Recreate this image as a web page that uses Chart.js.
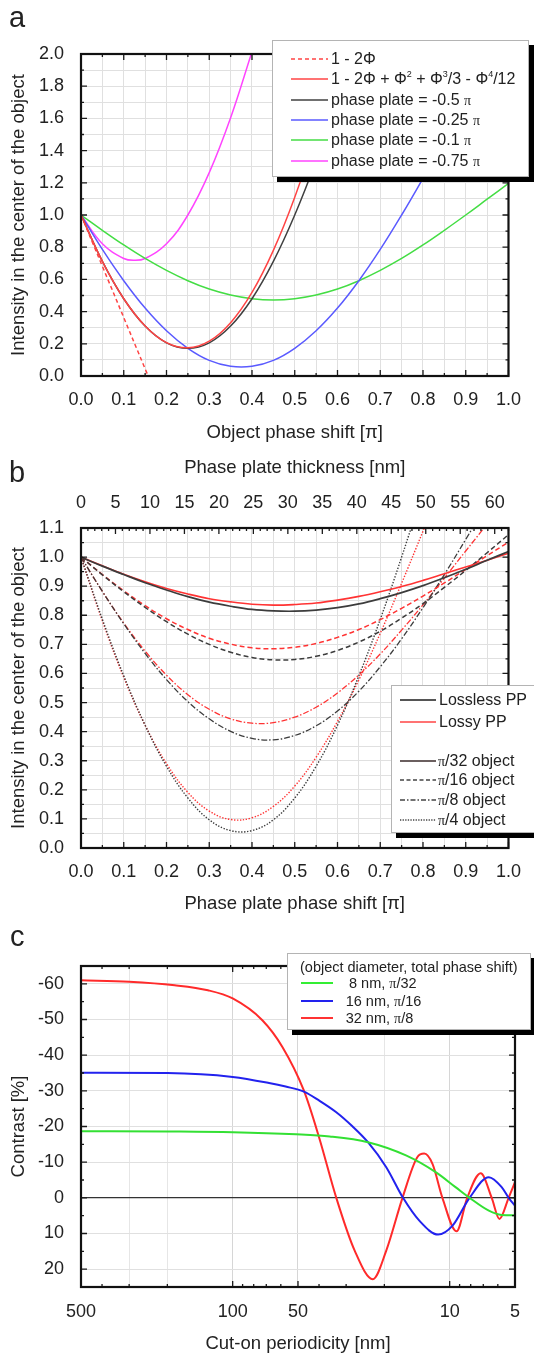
<!DOCTYPE html>
<html>
<head>
<meta charset="utf-8">
<script src="https://cdn.jsdelivr.net/npm/chart.js@4.4.1/dist/chart.umd.min.js"></script>
<style>
html,body{margin:0;padding:0;background:#fff;overflow:hidden;}
#page{position:relative;width:534px;height:1353px;overflow:hidden;font-family:"Liberation Sans",Arial,Helvetica,sans-serif;color:#222;}
canvas{position:absolute;left:0;}
.lbl{position:absolute;font-size:29px;line-height:29px;}
.legend{position:absolute;box-sizing:border-box;background:#fff;border:1px solid #b4b4b4;box-shadow:5px 5px 0 #000;}
.row{position:absolute;left:0;height:20px;display:flex;align-items:center;white-space:nowrap;}
.row svg{flex:none;}
.pi{font-family:"Liberation Serif","DejaVu Serif",serif;font-size:14px;}
sup{font-size:9px;line-height:0;vertical-align:7px;}
</style>
</head>
<body>
<div id="page">
  <canvas id="ca" width="534" height="450" style="top:0px"></canvas>
  <canvas id="cb" width="534" height="480" style="top:440px"></canvas>
  <canvas id="cc" width="534" height="440" style="top:915px"></canvas>

  <div class="lbl" style="left:9px;top:3px">a</div>
  <div class="lbl" style="left:9px;top:458px">b</div>
  <div class="lbl" style="left:10px;top:922px">c</div>

  <!-- legend a -->
  <div class="legend" style="left:272px;top:40px;width:257px;height:137px;font-size:16px">
    <div class="row" style="top:8px"><svg style="margin-left:18px" width="37" height="4"><line x1="0" y1="2" x2="37" y2="2" stroke="#ff4444" stroke-width="1.5" stroke-dasharray="4 3"/></svg><span style="margin-left:3px">1 - 2Φ</span></div>
    <div class="row" style="top:28.3px"><svg style="margin-left:18px" width="37" height="4"><line x1="0" y1="2" x2="37" y2="2" stroke="#ff4444" stroke-width="1.5"/></svg><span style="margin-left:3px">1 - 2Φ + Φ<sup>2</sup> + Φ<sup>3</sup>/3 - Φ<sup>4</sup>/12</span></div>
    <div class="row" style="top:48.6px"><svg style="margin-left:18px" width="37" height="4"><line x1="0" y1="2" x2="37" y2="2" stroke="#404040" stroke-width="1.5"/></svg><span style="margin-left:3px">phase plate = -0.5 <span class="pi">π</span></span></div>
    <div class="row" style="top:68.9px"><svg style="margin-left:18px" width="37" height="4"><line x1="0" y1="2" x2="37" y2="2" stroke="#5a5aff" stroke-width="1.5"/></svg><span style="margin-left:3px">phase plate = -0.25 <span class="pi">π</span></span></div>
    <div class="row" style="top:89.2px"><svg style="margin-left:18px" width="37" height="4"><line x1="0" y1="2" x2="37" y2="2" stroke="#44dd44" stroke-width="1.5"/></svg><span style="margin-left:3px">phase plate = -0.1 <span class="pi">π</span></span></div>
    <div class="row" style="top:109.5px"><svg style="margin-left:18px" width="37" height="4"><line x1="0" y1="2" x2="37" y2="2" stroke="#ff44ff" stroke-width="1.5"/></svg><span style="margin-left:3px">phase plate = -0.75 <span class="pi">π</span></span></div>
  </div>

  <!-- legend b -->
  <div class="legend" style="left:391px;top:685px;width:160px;height:148px;font-size:16px">
    <div class="row" style="top:4px"><svg style="margin-left:8px" width="36" height="4"><line x1="0" y1="2" x2="36" y2="2" stroke="#555" stroke-width="1.8"/></svg><span style="margin-left:3px">Lossless PP</span></div>
    <div class="row" style="top:26px"><svg style="margin-left:8px" width="36" height="4"><line x1="0" y1="2" x2="36" y2="2" stroke="#ff4444" stroke-width="1.5"/></svg><span style="margin-left:3px">Lossy PP</span></div>
    <div class="row" style="top:65px"><svg style="margin-left:8px" width="36" height="4"><line x1="0" y1="2" x2="36" y2="2" stroke="#6b5f5f" stroke-width="2.2"/></svg><span style="margin-left:2px"><span class="pi">π</span>/32 object</span></div>
    <div class="row" style="top:84px"><svg style="margin-left:8px" width="36" height="4"><line x1="0" y1="2" x2="36" y2="2" stroke="#444" stroke-width="1.4" stroke-dasharray="4 2.5"/></svg><span style="margin-left:2px"><span class="pi">π</span>/16 object</span></div>
    <div class="row" style="top:104px"><svg style="margin-left:8px" width="36" height="4"><line x1="0" y1="2" x2="36" y2="2" stroke="#444" stroke-width="1.4" stroke-dasharray="5 2 1.5 2"/></svg><span style="margin-left:2px"><span class="pi">π</span>/8 object</span></div>
    <div class="row" style="top:124px"><svg style="margin-left:8px" width="36" height="4"><line x1="0" y1="2" x2="36" y2="2" stroke="#444" stroke-width="1.4" stroke-dasharray="1.3 1.3"/></svg><span style="margin-left:2px"><span class="pi">π</span>/4 object</span></div>
  </div>

  <!-- legend c -->
  <div class="legend" style="left:287px;top:953px;width:244px;height:77px;font-size:14.5px">
    <div class="row" style="top:3.5px;height:18px"><span style="margin-left:12px">(object diameter, total phase shift)</span></div>
    <div class="row" style="top:20.3px;height:18px"><svg style="margin-left:13px" width="32" height="4"><line x1="0" y1="2" x2="32" y2="2" stroke="#33ee33" stroke-width="2"/></svg><span style="margin-left:16px">8 nm, <span class="pi">π</span>/32</span></div>
    <div class="row" style="top:38px;height:18px"><svg style="margin-left:13px" width="32" height="4"><line x1="0" y1="2" x2="32" y2="2" stroke="#2222ee" stroke-width="2"/></svg><span style="margin-left:12.7px">16 nm, <span class="pi">π</span>/16</span></div>
    <div class="row" style="top:55.3px;height:18px"><svg style="margin-left:13px" width="32" height="4"><line x1="0" y1="2" x2="32" y2="2" stroke="#ff3333" stroke-width="2"/></svg><span style="margin-left:12.7px">32 nm, <span class="pi">π</span>/8</span></div>
  </div>
</div>

<script>
// ---------------- Panel a data ----------------
const aPhase = [0,0.05,0.10,0.15,0.20,0.25,0.30,0.35,0.40,0.45,0.50,0.55,0.60,0.65,0.70,0.75,0.80,0.85,0.90,0.95,1.00];
const aLinearX = [0, 0.157];
const aLinearY = [1.0, 0.0];
const aTaylor   = [1.000,0.712,0.480,0.311,0.207,0.175,0.216,0.331,0.519,0.780,1.110,1.507,1.964,2.476];
const aPlate050 = [1.000,0.712,0.480,0.310,0.206,0.172,0.206,0.310,0.480,0.712,1.000,1.337,1.716,2.126];
const aPlate025 = [1.000,0.786,0.592,0.422,0.281,0.172,0.097,0.060,0.060,0.097,0.172,0.281,0.422,0.592,0.786,1.000,1.228,1.466,1.706,1.943,2.172];
const aPlate010 = [1.000,0.905,0.814,0.730,0.656,0.592,0.540,0.503,0.480,0.472,0.480,0.503,0.540,0.592,0.656,0.730,0.814,0.905,1.000,1.098,1.196];
const aPlate075X = [0,0.05,0.10,0.125,0.15,0.20,0.25,0.30,0.35,0.40];
const aPlate075 = [1.000,0.821,0.730,0.719,0.730,0.821,1.000,1.263,1.604,2.014];

// ---------------- Panel b data ----------------
const bPhase = [0,0.05,0.10,0.15,0.20,0.25,0.30,0.35,0.40,0.45,0.50,0.55,0.60,0.65,0.70,0.75,0.80,0.85,0.90,0.95,1.00];
const bLossless32 = [1.000,0.969,0.940,0.912,0.887,0.864,0.845,0.831,0.820,0.815,0.814,0.818,0.826,0.839,0.857,0.878,0.902,0.929,0.958,0.989,1.019];
const bLossy32    = [1.000,0.970,0.941,0.915,0.892,0.873,0.857,0.846,0.838,0.835,0.837,0.842,0.852,0.865,0.881,0.899,0.920,0.943,0.966,0.989,1.013];
const bLossless16 = [1.000,0.939,0.881,0.827,0.778,0.735,0.700,0.673,0.655,0.647,0.648,0.659,0.679,0.708,0.745,0.790,0.840,0.896,0.954,1.015,1.077];
const bLossy16    = [1.000,0.940,0.884,0.833,0.788,0.751,0.721,0.701,0.688,0.685,0.690,0.703,0.724,0.751,0.785,0.824,0.866,0.911,0.958,1.005,1.051];
const bLossless8  = [1.000,0.882,0.771,0.669,0.579,0.503,0.444,0.401,0.377,0.372,0.387,0.420,0.471,0.539,0.623,0.719,0.826,0.940,1.061,1.183,1.304];
const bLossy8     = [1.000,0.882,0.773,0.677,0.594,0.527,0.477,0.444,0.429,0.431,0.450,0.484,0.533,0.595,0.667,0.749,0.836,0.928,1.021,1.113,1.202];
const bLossless4  = [1.000,0.786,0.592,0.422,0.281,0.172,0.097,0.060,0.060,0.097,0.172,0.281,0.422,0.592,0.786,1.000,1.228];
const bLossy4     = [1.000,0.781,0.587,0.422,0.290,0.191,0.127,0.098,0.104,0.143,0.213,0.312,0.435,0.578,0.738,0.910,1.089,1.269];
const bThicknessLabels = [0,5,10,15,20,25,30,35,40,45,50,55,60];

// ---------------- Panel c data ----------------
const cRedPeriod   = [500,300,185,130,100,73,59,47,40,33.3,27.4,22.6,19.6,16.5,14.1,13.1,12.0,10.8,9.3,8.3,7.2,6.4,5.9,5.35,5.0];
const cRed         = [-61.0,-60.6,-59.6,-58.2,-55.9,-49.8,-42.3,-30.1,-17.0,0,14.8,22.8,14.8,0,-11.4,-12.4,-9.5,0,9.4,0,-6.9,0,5.9,0,-4.4];
const cBluePeriod  = [500,200,100,68,57,47,40,33.3,28,23.8,19.6,16.4,13.8,11.3,9.7,8.1,6.6,5.76,5.35,5.0];
const cBlue        = [-35.1,-35.0,-33.9,-32.2,-31.2,-29.8,-27.3,-24.0,-20.0,-15.6,-8.6,0,6.4,10.3,7.8,0,-5.8,-3.0,0,2.2];
const cGreenPeriod = [500,200,100,51,35.7,23.8,15.9,11.6,9.4,8.1,6.6,5.76,5.0];
const cGreen       = [-18.7,-18.6,-18.4,-17.8,-17.2,-15.6,-11.9,-7.2,-3.0,0,3.6,4.8,4.9];
const cPeriodLabels = [500,100,50,10,5];
const cPeriodGrid   = [500,300,200,100,50,20,10,5];
const cPeriodMinor  = [400,300,200,90,80,70,60,40,30,20,9,8,7,6];
const cContrastLabels = [-60,-50,-40,-30,-20,-10,0,10,20];

// ---------------- helpers ----------------
const FONT = "'Liberation Sans', Arial, Helvetica, sans-serif";
Chart.defaults.font.family = FONT;
Chart.defaults.font.size = 18;
Chart.defaults.color = '#222';
const GRID = '#e0e0e0';
const TITLE_FONT = {size: 18.5};

function steps(a, b, s){ const r=[]; for(let i=0; a+i*s <= b+1e-9; i++) r.push(Math.round((a+i*s)*1e6)/1e6); return r; }
function near(v, s){ return Math.abs(v/s - Math.round(v/s)) < 1e-6; }
function setTicks(vals){ return s => { s.ticks = vals.map(v => ({value:v})); }; }
function fixW(w){ return s => { s.width = w; }; }
function fixH(h){ return s => { s.height = h; }; }
function ds(xs, ys, color, dash, width){
  return {data: ys.map((y,i)=>({x:xs[i], y:y})), borderColor: color, borderDash: dash||[],
          borderWidth: width||1.5, pointRadius:0, fill:false};
}
function makeFrame(specs){
  return {
    id:'frameTicks',
    afterDraw(chart){
      const {ctx, chartArea:a} = chart;
      ctx.save();
      ctx.strokeStyle = '#1a1a1a'; ctx.lineWidth = 1.3;
      specs.forEach(sp => {
        const sc = chart.scales[sp.scale];
        [[sp.major, 6],[sp.minor, 3]].forEach(([vals,len]) => {
          vals.forEach(v => {
            const p = sc.getPixelForValue(v);
            ctx.beginPath();
            sp.sides.forEach(side => {
              if(side==='bottom'){ctx.moveTo(p,a.bottom);ctx.lineTo(p,a.bottom-len);}
              if(side==='top'){ctx.moveTo(p,a.top);ctx.lineTo(p,a.top+len);}
              if(side==='left'){ctx.moveTo(a.left,p);ctx.lineTo(a.left+len,p);}
              if(side==='right'){ctx.moveTo(a.right,p);ctx.lineTo(a.right-len,p);}
            });
            ctx.stroke();
          });
        });
      });
      ctx.lineWidth = 2.2; ctx.strokeStyle = '#111';
      ctx.strokeRect(a.left, a.top, a.right-a.left, a.bottom-a.top);
      ctx.restore();
    }
  };
}
const common = {
  responsive:false, animation:false, events:[],
  plugins:{legend:{display:false}, tooltip:{enabled:false}},
};

// ---------------- Panel a ----------------
const RED_A='#ff4444', BLK_A='#404040', BLU_A='#5a5aff', GRN_A='#44dd44', MAG_A='#ff44ff';
new Chart(document.getElementById('ca'), {
  type:'line',
  data:{datasets:[
    ds(aLinearX, aLinearY, RED_A, [4,3]),
    ds(aPhase, aTaylor, RED_A),
    ds(aPhase, aPlate050, BLK_A),
    ds(aPhase, aPlate025, BLU_A),
    ds(aPhase, aPlate010, GRN_A),
    ds(aPlate075X, aPlate075, MAG_A)
  ]},
  options:Object.assign({}, common, {
    layout:{padding:{top:54,right:16,left:0,bottom:6}},
    elements:{line:{tension:0.4}},
    scales:{
      x:{type:'linear', min:0, max:1, afterBuildTicks:setTicks(steps(0,1,0.05)), afterFit:fixH(68),
         grid:{color:GRID, drawTicks:false}, border:{display:false},
         ticks:{padding:13, autoSkip:false, maxRotation:0, callback:v => near(v,0.1) ? v.toFixed(1) : ''},
         title:{display:true, text:'Object phase shift [π]', font:TITLE_FONT, padding:{top:0,bottom:0}}},
      y:{type:'linear', min:0, max:2, afterBuildTicks:setTicks(steps(0,2,0.1)), afterFit:fixW(81),
         grid:{color:GRID, drawTicks:false}, border:{display:false},
         ticks:{padding:17, autoSkip:false, callback:v => near(v,0.2) ? v.toFixed(1) : ''},
         title:{display:true, text:'Intensity in the center of the object', font:TITLE_FONT, padding:{top:8,bottom:0}}}
    }
  }),
  plugins:[makeFrame([
    {scale:'x', major:steps(0,1,0.1), minor:steps(0.05,0.95,0.1), sides:['bottom','top']},
    {scale:'y', major:steps(0,2,0.2), minor:steps(0.1,1.9,0.2), sides:['left','right']}
  ])]
});

// ---------------- Panel b ----------------
const BLK_B='#3c3c3c', RED_B='#ff3333';
const DASH=[5,3], DASHDOT=[6,2,1.5,2], DOT=[1.4,1.6];
new Chart(document.getElementById('cb'), {
  type:'line',
  data:{datasets:[
    ds(bPhase, bLossless32, BLK_B, [], 1.7),
    ds(bPhase, bLossy32, RED_B, [], 1.6),
    ds(bPhase, bLossless16, BLK_B, DASH, 1.5),
    ds(bPhase, bLossy16, RED_B, DASH, 1.5),
    ds(bPhase, bLossless8, BLK_B, DASHDOT, 1.3),
    ds(bPhase, bLossy8, RED_B, DASHDOT, 1.3),
    ds(bPhase, bLossless4, BLK_B, DOT, 1.4),
    ds(bPhase, bLossy4, RED_B, DOT, 1.4)
  ]},
  options:Object.assign({}, common, {
    layout:{padding:{top:10,right:15,left:0,bottom:5}},
    elements:{line:{tension:0.4}},
    scales:{
      x:{type:'linear', position:'bottom', min:0, max:1, afterBuildTicks:setTicks(steps(0,1,0.05)), afterFit:fixH(67),
         grid:{color:GRID, drawTicks:false}, border:{display:false},
         ticks:{padding:13, autoSkip:false, maxRotation:0, callback:v => near(v,0.1) ? v.toFixed(1) : ''},
         title:{display:true, text:'Phase plate phase shift [π]', font:TITLE_FONT, padding:{top:0,bottom:0}}},
      x2:{type:'linear', position:'top', min:0, max:62, afterBuildTicks:setTicks(bThicknessLabels), afterFit:fixH(78),
         grid:{display:false, drawTicks:false}, border:{display:false},
         ticks:{padding:14, autoSkip:false, maxRotation:0, callback:v => String(v)},
         title:{display:true, text:'Phase plate thickness [nm]', font:TITLE_FONT, padding:{top:7,bottom:0}}},
      y:{type:'linear', min:0, max:1.1, afterBuildTicks:setTicks(steps(0,1.1,0.05)), afterFit:fixW(81),
         grid:{color:GRID, drawTicks:false}, border:{display:false},
         ticks:{padding:17, autoSkip:false, callback:v => near(v,0.1) ? v.toFixed(1) : ''},
         title:{display:true, text:'Intensity in the center of the object', font:TITLE_FONT, padding:{top:8,bottom:0}}}
    }
  }),
  plugins:[makeFrame([
    {scale:'x', major:steps(0,1,0.1), minor:steps(0.05,0.95,0.1), sides:['bottom']},
    {scale:'x2', major:bThicknessLabels, minor:steps(0,62,1).filter(v=>v%5!==0), sides:['top']},
    {scale:'y', major:steps(0,1.1,0.1), minor:steps(0.05,1.05,0.1), sides:['left','right']}
  ])]
});

// ---------------- Panel c ----------------
new Chart(document.getElementById('cc'), {
  type:'line',
  data:{datasets:[
    ds(cGreenPeriod, cGreen, '#33e033', [], 2),
    ds(cBluePeriod, cBlue, '#2222ee', [], 2),
    ds(cRedPeriod, cRed, '#ff2a2a', [], 2)
  ]},
  options:Object.assign({}, common, {
    layout:{padding:{top:51,right:15,left:0,bottom:0}},
    elements:{line:{cubicInterpolationMode:'monotone'}},
    scales:{
      x:{type:'logarithmic', min:5, max:500, reverse:true, afterBuildTicks:setTicks(cPeriodGrid), afterFit:fixH(68),
         grid:{color:c => [100,50,10].includes(c.tick && c.tick.value) ? '#d6d6d6' : '#e6e6e6', drawTicks:false},
         border:{display:false},
         ticks:{padding:14, autoSkip:false, maxRotation:0, callback:v => cPeriodLabels.includes(v) ? String(v) : ''},
         title:{display:true, text:'Cut-on periodicity [nm]', font:TITLE_FONT, padding:{top:0,bottom:0}}},
      y:{type:'linear', min:-65, max:25, reverse:true, afterBuildTicks:setTicks(cContrastLabels), afterFit:fixW(81),
         grid:{color:c => (c.tick && c.tick.value===0) ? '#333' : GRID, lineWidth:c => (c.tick && c.tick.value===0) ? 1.3 : 1, drawTicks:false},
         border:{display:false},
         ticks:{padding:17, autoSkip:false, callback:v => String(v)},
         title:{display:true, text:'Contrast [%]', font:TITLE_FONT, padding:{top:8,bottom:0}}}
    }
  }),
  plugins:[makeFrame([
    {scale:'x', major:[100,50,10], minor:cPeriodMinor, sides:['bottom','top']},
    {scale:'y', major:cContrastLabels, minor:steps(-65,25,10), sides:['left','right']}
  ])]
});
</script>
</body>
</html>
